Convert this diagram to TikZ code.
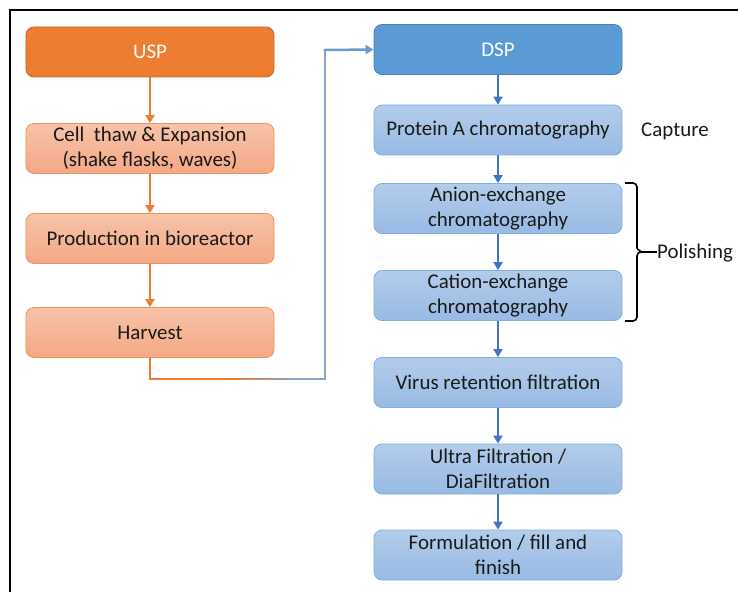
\documentclass[tikz,border=0pt]{standalone}
\usepackage{fontspec}
\setmainfont{Carlito}
\usetikzlibrary{arrows.meta}
\definecolor{usporange}{HTML}{ED7D31}
\definecolor{uspborder}{HTML}{C8662A}
\definecolor{ltoTop}{HTML}{F7C3A8}
\definecolor{ltoBot}{HTML}{F4A886}
\definecolor{ltoBorder}{HTML}{F19158}
\definecolor{dspblue}{HTML}{5B9BD5}
\definecolor{dspborder}{HTML}{4A80B5}
\definecolor{ltbTop}{HTML}{B3CCEB}
\definecolor{ltbBot}{HTML}{98BAE4}
\definecolor{ltbBorder}{HTML}{7FAEE0}
\definecolor{arrblue}{HTML}{4472C4}
\definecolor{greyblue}{HTML}{8EA3C0}
\definecolor{txt}{HTML}{1A1A1A}
\begin{document}
\begin{tikzpicture}[x=1bp,y=-1bp,
  box/.style={rounded corners=8bp, minimum width=248bp, minimum height=50bp, align=center,
    font=\fontsize{21}{25}\selectfont, inner sep=0pt, line width=0.8bp,
    execute at begin node=\vspace*{3bp}},
  uspbox/.style={box, fill=usporange, draw=uspborder, text=white},
  obox/.style={box, top color=ltoTop, bottom color=ltoBot, draw=ltoBorder, text=txt},
  dspbox/.style={box, fill=dspblue, draw=dspborder, text=white},
  bbox/.style={box, top color=ltbTop, bottom color=ltbBot, draw=ltbBorder, text=txt},
  oarr/.style={-{Triangle[length=8bp,width=9bp]}, usporange, line width=2.5bp},
  barr/.style={-{Triangle[length=8bp,width=9bp]}, arrblue, line width=2.5bp},
  lbl/.style={font=\fontsize{21}{25}\selectfont, text=txt, inner sep=0pt}]
\useasboundingbox (0,0) rectangle (738,592);
\draw[line width=2.5bp] (10,592) -- (10,10) -- (738,10);

\node[uspbox] (usp) at (150,52) {USP};
\node[obox] (cell) at (150,148.5) {Cell\ \ thaw \& Expansion\\(shake flasks, waves)};
\node[obox] (prod) at (150,238.5) {Production in bioreactor};
\node[obox] (harv) at (150,332.5) {Harvest};

\node[dspbox] (dsp) at (498,49.5) {DSP};
\node[bbox] (prota) at (498,130) {Protein A chromatography};
\node[bbox] (anion) at (498,208.5) {Anion-exchange\\chromatography};
\node[bbox] (cation) at (498,295.5) {Cation-exchange\\chromatography};
\node[bbox] (virus) at (498,382.5) {Virus retention filtration};
\node[bbox] (ultra) at (498,469) {Ultra Filtration /\\DiaFiltration};
\node[bbox] (form) at (498,555) {Formulation / fill and\\finish};

\draw[oarr] (usp) -- (cell);
\draw[oarr] (cell) -- (prod);
\draw[oarr] (prod) -- (harv);

\draw[barr] (dsp) -- (prota);
\draw[barr] (prota) -- (anion);
\draw[barr] (anion) -- (cation);
\draw[barr] (cation) -- (virus);
\draw[barr] (virus) -- (ultra);
\draw[barr] (ultra) -- (form);

% harvest to DSP connector
\coordinate (c1) at (150,379);
\coordinate (c2) at (230,379);
\coordinate (c4) at (325,379);
\coordinate (c5) at (325,50);
\draw[usporange, line width=2.5bp] (harv.south) -- (c1) -- (c2);
\foreach \i in {0,...,23}{
  \pgfmathsetmacro{\pct}{100-\i*100/23}
  \draw[color=usporange!\pct!greyblue, line width=2.5bp] (230+\i*2.5,379) -- (233+\i*2.5,379);
}
\draw[greyblue, line width=2.5bp, line join=miter] (290,379) -- (c4) -- (c5);
\draw[-{Triangle[length=8bp,width=9bp]}, color=dspblue!80!greyblue, line width=2.5bp, line cap=rect] (c5) -- (dsp.west);

\node[lbl, anchor=west] (capture) at (641,131) {Capture};
\coordinate (b1) at (625,183);
\coordinate (b2) at (625,321);
\draw[line width=1.6bp] (b1) -- (633,183) to[out=0,in=90] (637,187) -- (637,248)
  to[out=-90,in=0] (641,252) to[out=180,in=90] (637,256) -- (637,317) to[out=-90,in=0] (633,321) -- (b2);
\draw[line width=1.6bp] (641,252) -- (657,252);
\node[lbl, anchor=west] (pol) at (657,253) {Polishing};
\end{tikzpicture}
\end{document}
